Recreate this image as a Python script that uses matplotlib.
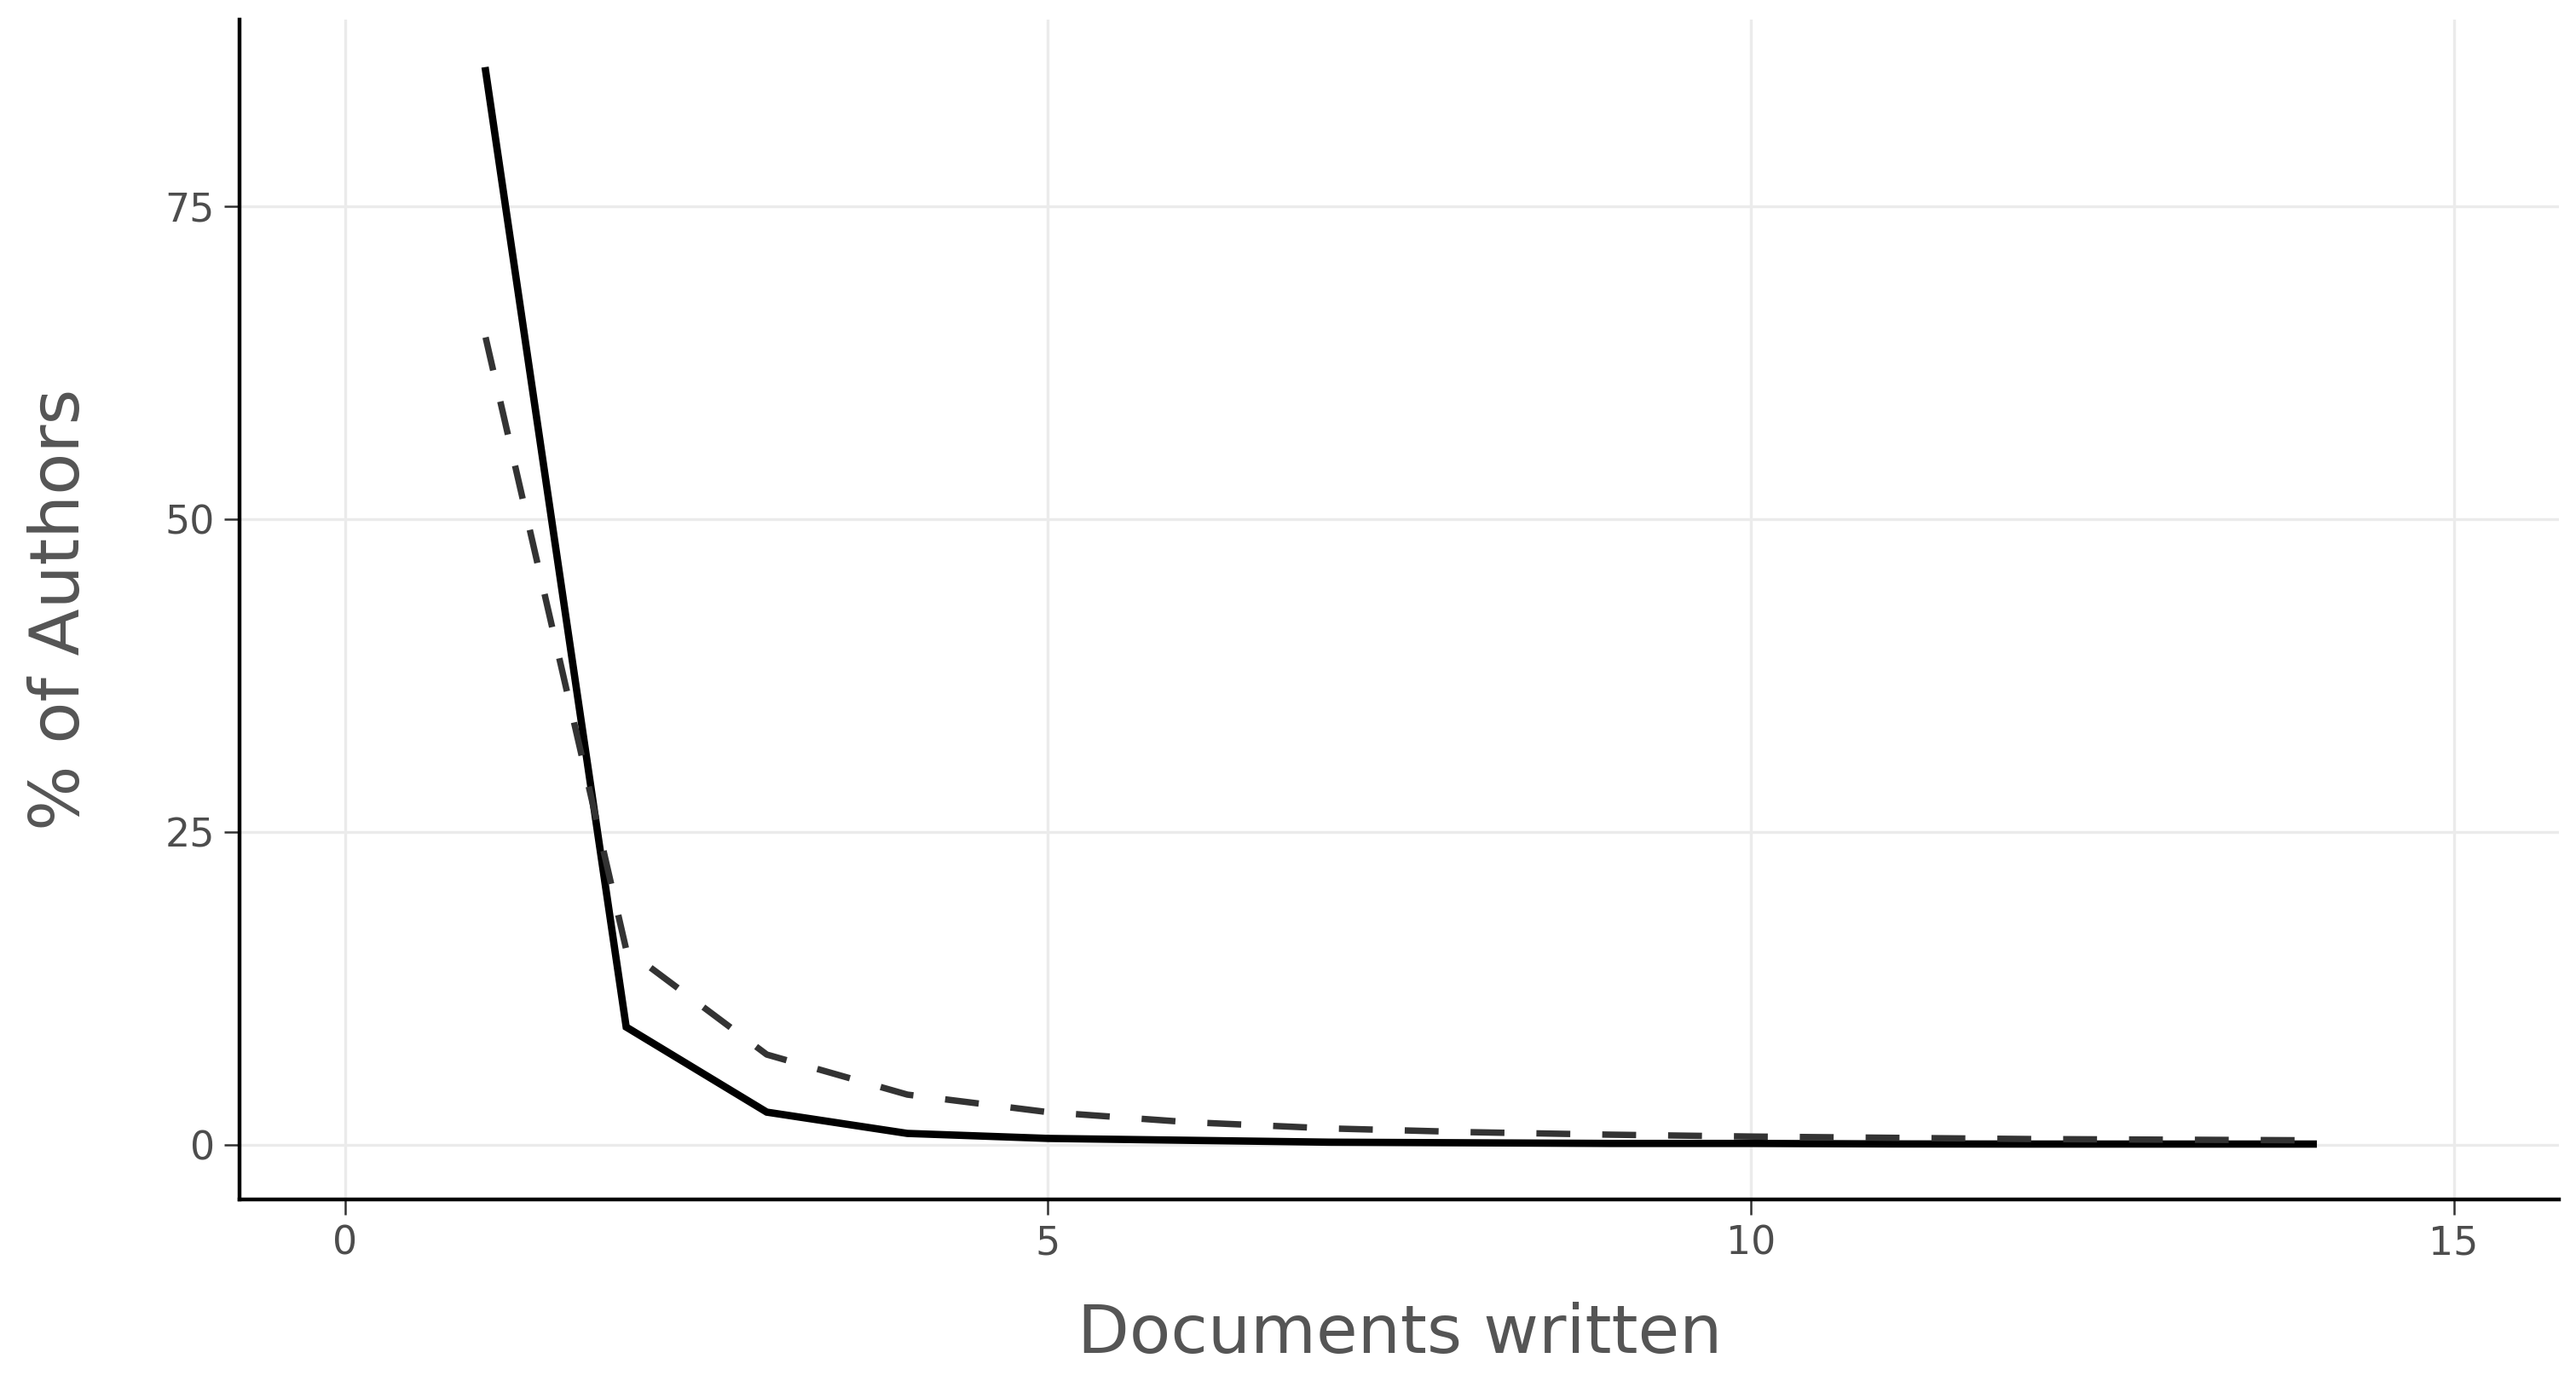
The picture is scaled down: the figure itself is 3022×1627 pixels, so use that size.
import matplotlib
matplotlib.use("Agg")
import matplotlib.pyplot as plt

# documents written per author
docs = [1, 2, 3, 4, 5, 6, 7, 8, 9, 10, 11, 12, 13, 14]
# observed share of authors (%)
observed = [85.8, 9.4, 2.6, 0.9, 0.5, 0.35, 0.2, 0.15, 0.1, 0.1, 0.06, 0.05, 0.05, 0.05]
# theoretical (Lotka) share of authors (%)
theoretical = [64.5, 15.6, 7.2, 4.0, 2.6, 1.8, 1.3, 1.0, 0.8, 0.65, 0.55, 0.45, 0.4, 0.35]

xticks = [0, 5, 10, 15]
yticks = [0, 25, 50, 75]

fig = plt.figure(figsize=(30.22, 16.27), dpi=100)
ax = fig.add_axes([0.093, 0.135, 0.9005, 0.851])

ax.plot(docs, observed, color="black", lw=6.2, solid_joinstyle="miter", zorder=3)
ax.plot(docs, theoretical, color="#333333", lw=5.4, dashes=(5.3, 5),
        dash_capstyle="butt", zorder=3)

ax.set_xlim(-0.75, 15.75)
ax.set_ylim(-4.4, 89.9)
ax.set_xticks(xticks)
ax.set_yticks(yticks)
ax.grid(True, color="#EBEBEB", lw=2.4, zorder=0)
ax.set_axisbelow(True)

for s in ["top", "right"]:
    ax.spines[s].set_visible(False)
for s in ["left", "bottom"]:
    ax.spines[s].set_linewidth(3.2)
    ax.spines[s].set_color("black")

ax.tick_params(axis="both", length=13, width=1.8, color="#333333",
               labelsize=33, labelcolor="#4D4D4D", pad=8)

ax.set_xlabel("Documents written", fontsize=57, color="#555555", labelpad=33)
ax.set_ylabel("% of Authors", fontsize=58, color="#555555", labelpad=60)

fig.savefig("out.png", dpi=100, facecolor="white")
